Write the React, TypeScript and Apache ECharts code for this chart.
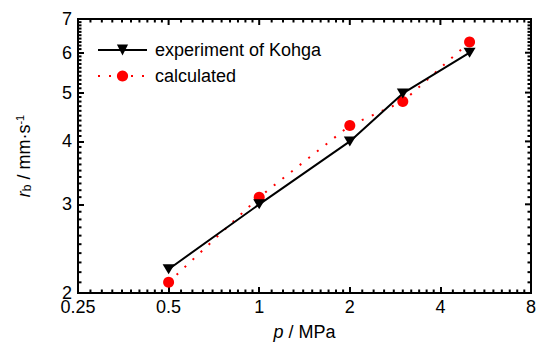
import React, { useEffect, useRef } from 'react';
import * as echarts from 'echarts';

// ---- data ----
const pressureMPa = [0.5, 1, 2, 3, 5];
const experimentKohga = [2.23, 3.0, 4.0, 4.98, 6.0];
const calculatedRate = [2.1, 3.1, 4.3, 4.8, 6.3];

const xMajorTicks = [0.25, 0.5, 1, 2, 4, 8];
const xTickLabels = ['0.25', '0.5', '1', '2', '4', '8'];
const yMajorTicks = [2, 3, 4, 5, 6, 7];
const yTickLabels = ['2', '3', '4', '5', '6', '7'];

const X_MIN = 0.25, X_MAX = 8, Y_MIN = 2, Y_MAX = 7;

const FONT = "'Liberation Sans', Arial, sans-serif";
const FS = 18;

function minorBetween(majors: number[]): number[] {
  const out: number[] = [];
  for (let i = 0; i < majors.length - 1; i++) {
    const a = majors[i];
    const step = (majors[i + 1] - a) / 10;
    for (let k = 1; k <= 9; k++) out.push(+(a + k * step).toFixed(6));
  }
  return out;
}

const xMinorTicks = minorBetween(xMajorTicks);
const yMinorTicks = minorBetween(yMajorTicks);

function labelFor(ticks: number[], labels: string[]) {
  return (v: number) => {
    let best = 0;
    for (let i = 1; i < ticks.length; i++) {
      if (Math.abs(ticks[i] - v) < Math.abs(ticks[best] - v)) best = i;
    }
    return labels[best];
  };
}

export default function App() {
  const ref = useRef<HTMLDivElement>(null);
  useEffect(() => {
    if (!ref.current) return;
    const chart = echarts.init(ref.current, null, { renderer: 'svg' });

    chart.setOption({
      animation: false,
      backgroundColor: '#fff',
      textStyle: { fontFamily: FONT },
      grid: {
        left: 78, right: 5, top: 19, bottom: 52,
        show: true, borderColor: '#000', borderWidth: 2,
        outerBoundsMode: 'none',
      },
      legend: {
        orient: 'vertical',
        left: 97,
        top: 41,
        padding: 0,
        itemWidth: 49,
        itemHeight: 14,
        itemGap: 8,
        textStyle: { fontFamily: FONT, fontSize: FS, color: '#000', padding: [0, 0, 0, 3] },
        data: ['experiment of Kohga', 'calculated'],
      },
      xAxis: {
        type: 'log', logBase: 2, min: X_MIN, max: X_MAX,
        splitLine: { show: false },
        axisLine: { show: true, lineStyle: { color: '#000', width: 2 } },
        axisTick: { show: true, inside: true, length: 6, customValues: xMajorTicks, lineStyle: { color: '#000', width: 2 } },
        axisLabel: {
          show: true, customValues: xMajorTicks, margin: 5,
          fontFamily: FONT, fontSize: FS, color: '#000',
          formatter: labelFor(xMajorTicks, xTickLabels),
        },
        name: '{i|p} / MPa',
        nameLocation: 'middle',
        nameGap: 30,
        nameTextStyle: {
          fontFamily: FONT, fontSize: FS, color: '#000',
          rich: { i: { fontFamily: FONT, fontSize: FS, fontStyle: 'italic', color: '#000' } },
        },
      },
      yAxis: {
        type: 'log', logBase: 10, min: Y_MIN, max: Y_MAX,
        splitLine: { show: false },
        axisLine: { show: true, lineStyle: { color: '#000', width: 2 } },
        axisTick: { show: true, inside: true, length: 6, customValues: yMajorTicks, lineStyle: { color: '#000', width: 2 } },
        axisLabel: {
          show: true, customValues: yMajorTicks, margin: 6,
          fontFamily: FONT, fontSize: FS, color: '#000',
          formatter: labelFor(yMajorTicks, yTickLabels),
        },
        name: '{i|r}{sub|b} / mm·s{sup|-1}',
        nameLocation: 'middle',
        nameRotate: 90,
        nameGap: 45,
        nameTextStyle: {
          fontFamily: FONT, fontSize: FS, color: '#000',
          rich: {
            i: { fontFamily: FONT, fontSize: FS, fontStyle: 'italic', color: '#000' },
            sub: { fontFamily: FONT, fontSize: 12, color: '#000', verticalAlign: 'bottom', padding: [7, 0, 0, 0] },
            sup: { fontFamily: FONT, fontSize: 11, color: '#000', verticalAlign: 'top', padding: [0, 0, 8, 0] },
          },
        },
      },
      series: [
        {
          name: 'experiment of Kohga',
          type: 'line',
          data: pressureMPa.map((p, i) => [p, experimentKohga[i]]),
          symbol: 'triangle',
          symbolRotate: 180,
          symbolSize: [12, 10],
          lineStyle: { color: '#000', width: 2 },
          itemStyle: { color: '#000' },
          z: 3,
        },
        {
          name: 'calculated',
          type: 'line',
          data: pressureMPa.map((p, i) => [p, calculatedRate[i]]),
          symbol: 'circle',
          symbolSize: 11,
          lineStyle: { color: '#ff0000', width: 2, type: [2, 9] },
          itemStyle: { color: '#ff0000' },
          z: 2,
        },
      ],
    });

    // minor ticks and the mirrored top / right ticks, placed through the axes' own scales
    const toPx = (x: number, y: number) =>
      chart.convertToPixel({ xAxisIndex: 0, yAxisIndex: 0 }, [x, y]) as number[];
    const ticks: any[] = [];
    const seg = (x1: number, y1: number, x2: number, y2: number) => {
      ticks.push({
        type: 'line',
        z: 100,
        shape: { x1, y1, x2, y2 },
        style: { stroke: '#000', lineWidth: 2 },
      });
    };
    const addX = (v: number, len: number, bottom: boolean) => {
      const b = toPx(v, Y_MIN);
      const t = toPx(v, Y_MAX);
      if (bottom) seg(b[0], b[1], b[0], b[1] - len);
      seg(t[0], t[1], t[0], t[1] + len);
    };
    const addY = (v: number, len: number, left: boolean) => {
      const l = toPx(X_MIN, v);
      const r = toPx(X_MAX, v);
      if (left) seg(l[0], l[1], l[0] + len, l[1]);
      seg(r[0], r[1], r[0] - len, r[1]);
    };
    xMajorTicks.forEach((v) => addX(v, 6, false));
    xMinorTicks.forEach((v) => addX(v, 3.5, true));
    yMajorTicks.forEach((v) => addY(v, 6, false));
    yMinorTicks.forEach((v) => addY(v, 3.5, true));
    chart.setOption({ graphic: { elements: ticks } });

    return () => chart.dispose();
  }, []);
  return (
    <div
      ref={ref}
      style={{ position: 'fixed', left: 0, top: 0, width: 536, height: 345, background: '#fff' }}
    />
  );
}
